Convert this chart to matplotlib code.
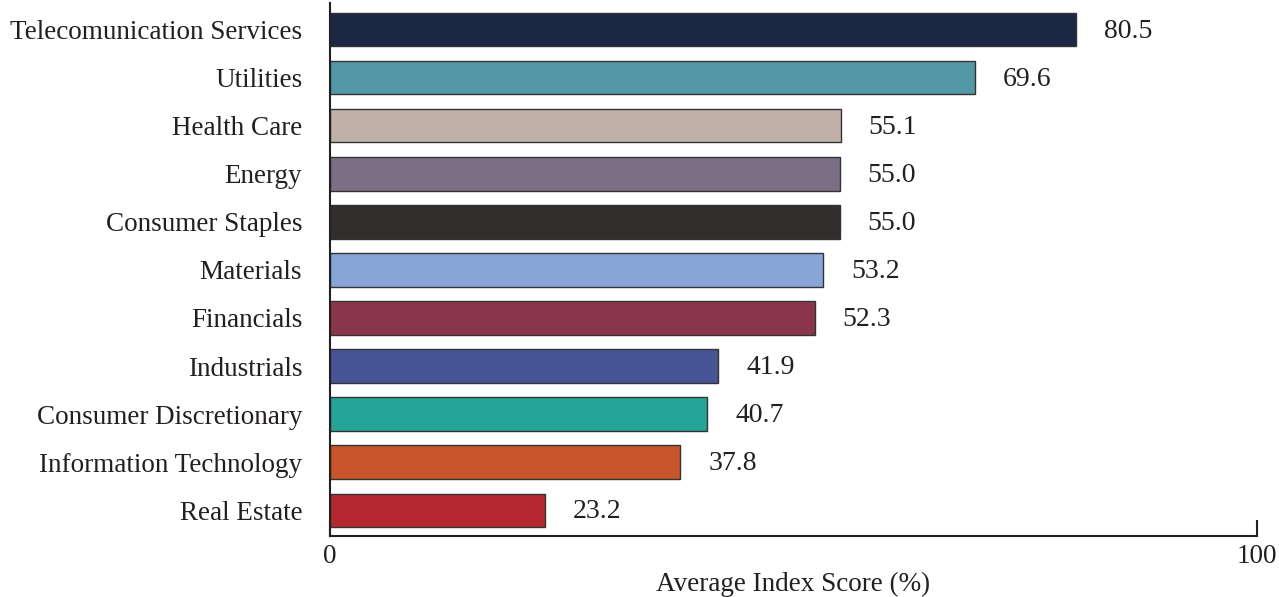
import numpy as np
import matplotlib.pyplot as plt

sectors = ['Telecomunication Services', 'Utilities', 'Health Care', 'Energy',
           'Consumer Staples', 'Materials', 'Financials', 'Industrials',
           'Consumer Discretionary', 'Information Technology', 'Real Estate']
scores = [80.5, 69.6, 55.1, 55.0, 55.0, 53.2, 52.3, 41.9, 40.7, 37.8, 23.2]
colors = ['#1c2744', '#5497a6', '#bfb0a8', '#7a7085', '#322e2e', '#87a5d6',
          '#8b354a', '#465595', '#24a597', '#c9552a', '#b5282f']

plt.rcParams['font.family'] = ['Liberation Serif', 'DejaVu Serif']

fig = plt.figure(figsize=(12.79, 5.97), dpi=100)
ax = fig.add_axes([330 / 1279, 1 - 536 / 597, 927 / 1279, 533 / 597])

# top sector at the top
y = np.arange(len(sectors))[::-1]
ax.barh(y, scores, height=0.69, color=colors, edgecolor='#333333', linewidth=1)

for yi, v in zip(y, scores):
    ax.annotate(f'{v:.1f}', (v, yi - 0.04), xytext=(20, 0), textcoords='offset points',
                va='center', ha='left', fontsize=20, color='#231f20')

ax.set_xlim(0, 100)
ax.set_ylim(-0.54, len(sectors) - 0.44)
ax.set_yticks(y)
ax.set_yticklabels(sectors, fontsize=19.5, color='#231f20')
ax.tick_params(axis='y', length=0, pad=20)
ax.set_xticks([0, 100])
ax.set_xticklabels(['0', '100'], fontsize=19.5, color='#231f20')
ax.tick_params(axis='x', direction='in', length=11.5, width=1.5, color='#231f20', pad=6)

for s in ['top', 'right']:
    ax.spines[s].set_visible(False)
for s in ['left', 'bottom']:
    ax.spines[s].set_linewidth(1.5)
    ax.spines[s].set_color('#231f20')

ax.set_xlabel('Average Index Score (%)', fontsize=19.5, color='#231f20', labelpad=2)

fig.savefig('out.png', dpi=100)
